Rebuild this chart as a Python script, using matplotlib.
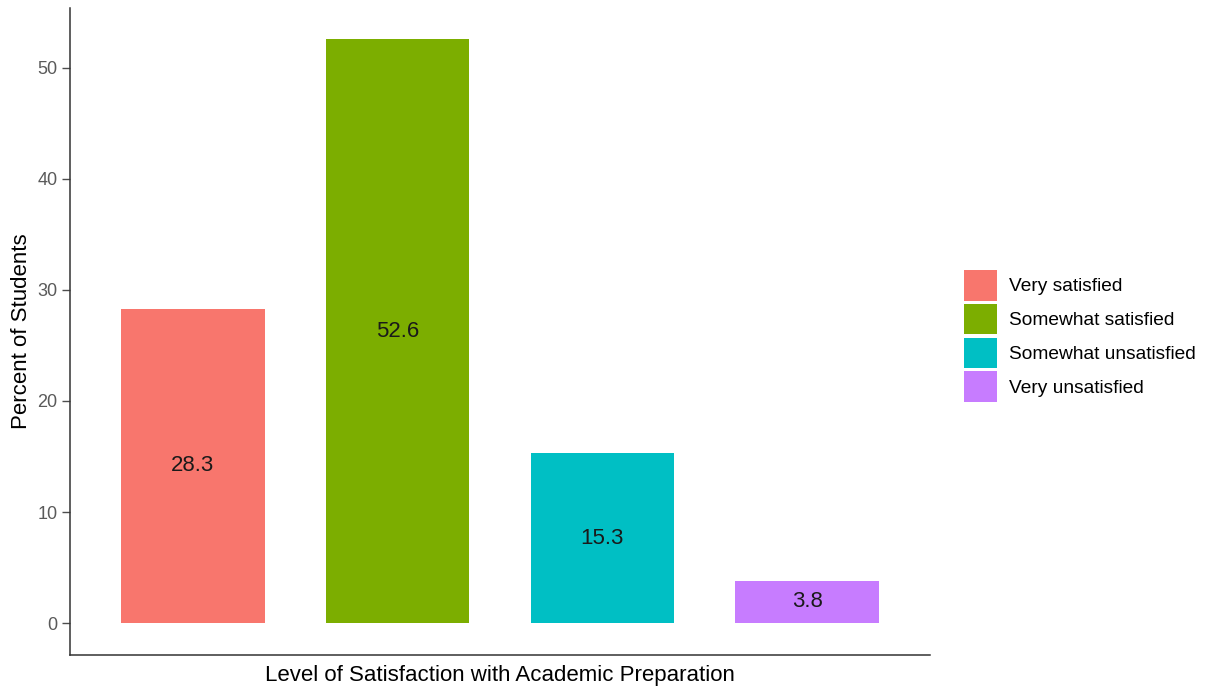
import matplotlib.pyplot as plt
from matplotlib.patches import Patch

categories = ["Very satisfied", "Somewhat satisfied", "Somewhat unsatisfied", "Very unsatisfied"]
percents = [28.3, 52.6, 15.3, 3.8]
colors = ["#F8766D", "#7CAE00", "#00BFC4", "#C77CFF"]
yticks = [0, 10, 20, 30, 40, 50]

plt.rcParams['font.family'] = ['Liberation Sans', 'DejaVu Sans']

fig = plt.figure(figsize=(12.06, 6.87), dpi=100)
ax = fig.add_axes([70 / 1206, 32 / 687, 860 / 1206, 647 / 687])

positions = list(range(1, len(categories) + 1))
ax.bar(positions, percents, width=0.7, color=colors)
for x, v in zip(positions, percents):
    ax.text(x, v / 2, f"{v}", ha="center", va="center", fontsize=16, color="#1a1a1a")

ax.set_xlim(0.4, 4.6)
ax.set_ylim(-2.88, 55.4)
ax.set_xticks([])
ax.set_yticks(yticks)
ax.tick_params(axis="y", labelsize=13, colors="#4D4D4D", length=6, width=1, pad=3)
for t in ax.get_yticklabels():
    t.set_color("#5a5a5a")
for side in ["top", "right"]:
    ax.spines[side].set_visible(False)
for side in ["left", "bottom"]:
    ax.spines[side].set_color("#333333")
    ax.spines[side].set_linewidth(1.1)

ax.set_xlabel("Level of Satisfaction with Academic Preparation", fontsize=16, labelpad=7)
ax.set_ylabel("Percent of Students", fontsize=16, labelpad=4)

handles = [Patch(facecolor=c, edgecolor="none") for c in colors]
fig.legend(handles, categories, loc="center left", bbox_to_anchor=(954 / 1206, 1 - 336 / 687),
           frameon=False, fontsize=13.8, borderpad=0, handlelength=1.75, handleheight=2.1,
           labelspacing=0.16, handletextpad=0.6)

fig.savefig("out.png", dpi=100)
